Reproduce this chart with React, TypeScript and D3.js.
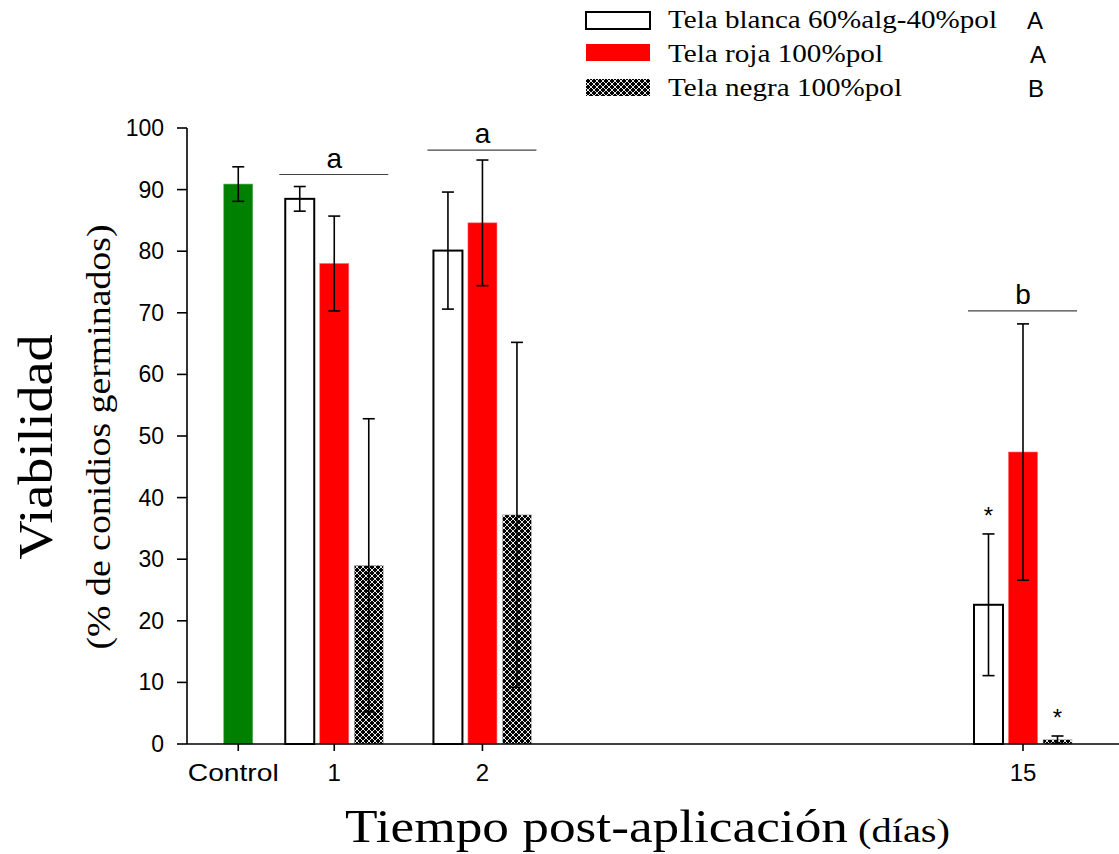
import React from "react";
import * as d3 from "d3";

// ---- Data ----
const groups = ["Control", "1", "2", "15"];
const groupDays = [0, 1, 2, 15];
const seriesNames = ["Tela blanca 60%alg-40%pol", "Tela roja 100%pol", "Tela negra 100%pol"];
const seriesLetters = ["A", "A", "B"];
const controlMean = 90.9;
const controlErr = 2.8;
const blancaMean = [88.5, 80.1, 22.6];
const blancaErr = [2.0, 9.5, 11.5];
const rojaMean = [78.0, 84.6, 47.4];
const rojaErr = [7.7, 10.2, 20.8];
const negraMean = [29.0, 37.2, 0.7];
const negraErr = [23.8, 28.0, 0.6];
const treatedDays = [1, 2, 15];
const groupLetters = ["a", "a", "b"];
const asterisks = [
  { day: 15, series: 0 },
  { day: 15, series: 2 },
];
const yTicks = [0, 10, 20, 30, 40, 50, 60, 70, 80, 90, 100];

const W = 1119;
const H = 854;
const plot = { left: 187, right: 1119, top: 128, bottom: 744 };

const colors = ["#ffffff", "#ff0000", "url(#crosshatch)"];
const serif = "'Liberation Serif', 'Times New Roman', serif";
const sans = "'Liberation Sans', Arial, sans-serif";

export default function App() {
  const y = d3.scaleLinear().domain([0, 100]).range([plot.bottom, plot.top]);
  // piecewise linear scale for the time axis (Control at 0)
  const pw = plot.right - plot.left;
  const x = d3
    .scaleLinear()
    .domain(groupDays)
    .range([plot.left + pw * 0.055, plot.left + pw * 0.158, plot.left + pw * 0.317, plot.left + pw * 0.897]);
  const band = d3.scaleBand<number>().domain([0, 1, 2]).range([-49, 49]).paddingInner(0.16);
  const bw = band.bandwidth();
  const means = [blancaMean, rojaMean, negraMean];
  const errs = [blancaErr, rojaErr, negraErr];

  const errBar = (cx: number, m: number, e: number, key: string) => (
    <g key={key} stroke="#000" strokeWidth={1.6}>
      <line x1={cx} x2={cx} y1={y(m - e)} y2={y(m + e)} />
      <line x1={cx - 6} x2={cx + 6} y1={y(m + e)} y2={y(m + e)} />
      <line x1={cx - 6} x2={cx + 6} y1={y(m - e)} y2={y(m - e)} />
    </g>
  );

  const bars: React.ReactNode[] = [];
  const errors: React.ReactNode[] = [];
  treatedDays.forEach((d, gi) => {
    [0, 1, 2].forEach((s) => {
      const cx = x(d) + (band(s) as number) + bw / 2;
      const m = means[s][gi];
      bars.push(
        <rect
          key={`b${gi}-${s}`}
          x={cx - bw / 2}
          y={y(m)}
          width={bw}
          height={y(0) - y(m)}
          fill={colors[s]}
          stroke={s === 0 ? "#000" : s === 1 ? "#ff6666" : "#bbb"}
          strokeWidth={s === 0 ? 2 : 0.6}
        />
      );
      errors.push(errBar(cx, m, errs[s][gi], `e${gi}-${s}`));
    });
  });

  const ctrlX = x(0);

  return (
    <svg width={W} height={H} style={{ display: "block", position: "absolute", left: 0, top: 0, background: "#fff" }}>
      <defs>
        <pattern id="crosshatch" width={6} height={6} patternUnits="userSpaceOnUse">
          <rect width={6} height={6} fill="#000" />
          <path d="M0,0 L6,6 M6,0 L0,6 M-1,5 L1,7 M5,-1 L7,1 M-1,1 L1,-1 M5,7 L7,5" stroke="#fff" strokeWidth={0.9} />
        </pattern>
      </defs>
      <rect width={W} height={H} fill="#fff" />

      {/* Legend */}
      {seriesNames.map((name, i) => {
        const top = [12, 44, 79][i];
        const base = [28, 62, 96][i];
        const lens = [329, 215, 234][i];
        return (
          <g key={name}>
            <rect
              x={586}
              y={top}
              width={64}
              height={17}
              fill={colors[i]}
              stroke={i === 0 ? "#000" : "none"}
              strokeWidth={2}
            />
            <text x={668} y={base} fontFamily={serif} fontSize={26} textLength={lens} lengthAdjust="spacingAndGlyphs">
              {name}
            </text>
            <text x={[1035, 1038, 1036][i]} y={base + 1} fontFamily={sans} fontSize={24} textAnchor="middle">
              {seriesLetters[i]}
            </text>
          </g>
        );
      })}

      {/* Control bar */}
      <rect
        x={ctrlX - bw / 2}
        y={y(controlMean)}
        width={bw}
        height={y(0) - y(controlMean)}
        fill="#008000"
        stroke="#66aa66"
        strokeWidth={0.6}
      />
      {errBar(ctrlX, controlMean, controlErr, "ctrl")}

      {bars}
      {errors}

      {/* Asterisks */}
      {asterisks.map((a, i) => {
        const gi = treatedDays.indexOf(a.day);
        const cx = x(a.day) + (band(a.series) as number) + bw / 2;
        const top = means[a.series][gi] + errs[a.series][gi];
        return (
          <text key={i} x={cx} y={y(top) - 10} fontFamily={sans} fontSize={24} textAnchor="middle">
            *
          </text>
        );
      })}

      {/* Significance letters */}
      {treatedDays.map((d, gi) => {
        const tops = [0, 1, 2].map((s) => means[s][gi] + errs[s][gi]);
        const maxTop = d3.max(tops) as number;
        const ly = y(maxTop) - [12, 10, 13][gi];
        const cx = x(d);
        return (
          <g key={`sig${gi}`}>
            <line x1={cx - 55} x2={cx + 54} y1={ly} y2={ly} stroke="#444" strokeWidth={1.2} />
            <text x={cx} y={ly - 7} fontFamily={sans} fontSize={28} textAnchor="middle">
              {groupLetters[gi]}
            </text>
          </g>
        );
      })}

      {/* Y axis */}
      <line x1={plot.left} x2={plot.left} y1={plot.top} y2={plot.bottom} stroke="#000" strokeWidth={1.6} />
      {yTicks.map((t) => (
        <g key={t}>
          <line x1={plot.left - 10} x2={plot.left} y1={y(t)} y2={y(t)} stroke="#000" strokeWidth={1.6} />
          <text x={plot.left - 23} y={y(t) + 8} fontFamily={sans} fontSize={23} textAnchor="end">
            {t}
          </text>
        </g>
      ))}

      {/* X axis */}
      <line x1={plot.left} x2={plot.right} y1={plot.bottom} y2={plot.bottom} stroke="#000" strokeWidth={1.6} />
      {groupDays.map((d, i) => (
        <g key={`xt${i}`}>
          <line x1={x(d)} x2={x(d)} y1={plot.bottom} y2={plot.bottom + 7} stroke="#000" strokeWidth={1.6} />
          <text
            x={x(d) - (i === 0 ? 5 : 0)}
            y={781}
            fontFamily={sans}
            fontSize={24}
            textAnchor="middle"
            {...(i === 0 ? { textLength: 91, lengthAdjust: "spacingAndGlyphs" } : {})}
          >
            {groups[i]}
          </text>
        </g>
      ))}

      {/* Axis titles */}
      <text x={345} y={842} fontFamily={serif} fontSize={46} textLength={503} lengthAdjust="spacingAndGlyphs">
        Tiempo post-aplicación
      </text>
      <text x={858} y={842} fontFamily={serif} fontSize={33} textLength={92} lengthAdjust="spacingAndGlyphs">
        (días)
      </text>
      <text
        transform="translate(52,447) rotate(-90)"
        fontFamily={serif}
        fontSize={48}
        textAnchor="middle"
        textLength={225}
        lengthAdjust="spacingAndGlyphs"
      >
        Viabilidad
      </text>
      <text
        transform="translate(110,437) rotate(-90)"
        fontFamily={serif}
        fontSize={33}
        textAnchor="middle"
        textLength={425}
        lengthAdjust="spacingAndGlyphs"
      >
        (% de conidios germinados)
      </text>
    </svg>
  );
}
